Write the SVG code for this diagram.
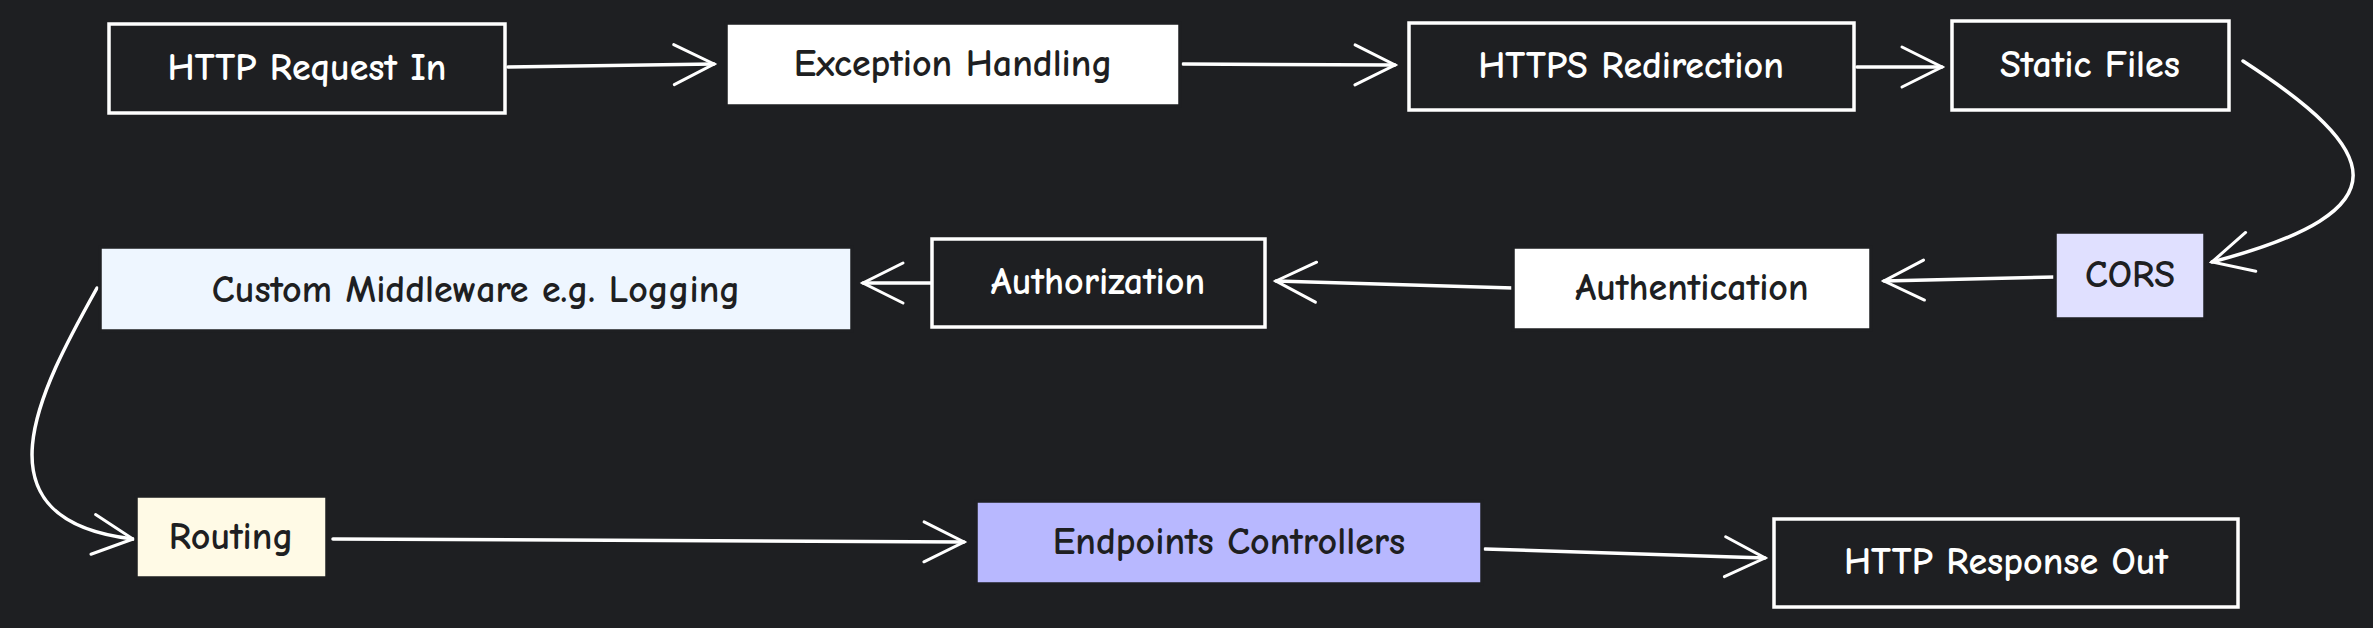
<svg xmlns="http://www.w3.org/2000/svg" width="2373" height="628" viewBox="0 0 2373 628">
<defs>
<style>
.n rect{stroke-width:3.5}
.d rect{fill:#1e1f22;stroke:#ffffff}
.d text{fill:#ffffff}
.l rect{stroke:#1e1f22}
.l text{fill:#1e1f22}
text{font-family:"Comic Neue","Liberation Sans",sans-serif;font-size:38px;font-weight:bold;text-anchor:middle;dominant-baseline:central}
#edges path{fill:none;stroke:#ffffff;stroke-width:3.5;stroke-linecap:round}
</style>
<marker id="b" viewBox="0 0 20 20" refX="18" refY="10" markerWidth="50" markerHeight="50" markerUnits="userSpaceOnUse" orient="auto">
<path d="M2 2 L18 10 L2 18" fill="none" stroke="#ffffff" stroke-width="1.2" stroke-linecap="round"/>
</marker>
</defs>
<rect width="2373" height="628" fill="#1e1f22"/>
<g id="edges">
<path d="M508 67 L714 64" marker-end="url(#b)"/>
<path d="M1183 64 L1395 65" marker-end="url(#b)"/>
<path d="M1857 67 L1942 67" marker-end="url(#b)"/>
<path d="M2243 61 C2380 150 2410 210 2212 262" marker-end="url(#b)"/>
<path d="M2055 277 L1884 281" marker-end="url(#b)"/>
<path d="M1513 288 L1276 281" marker-end="url(#b)"/>
<path d="M932 283 L863 283" marker-end="url(#b)"/>
<path d="M97 288 C40 390 -30 520 133 539" marker-end="url(#b)"/>
<path d="M333 539 L964 542" marker-end="url(#b)"/>
<path d="M1485 549 L1765 558" marker-end="url(#b)"/>
</g>
<g id="n1" class="n d"><rect x="109" y="24" width="396" height="89"/><text x="307" y="68">HTTP Request In</text></g>
<g id="n2" class="n l"><rect x="726" y="23" width="454" height="83" fill="#ffffff"/><text x="953" y="64">Exception Handling</text></g>
<g id="n3" class="n d"><rect x="1409" y="23" width="445" height="87"/><text x="1631" y="66">HTTPS Redirection</text></g>
<g id="n4" class="n d"><rect x="1952" y="21" width="277" height="89"/><text x="2090" y="65">Static Files</text></g>
<g id="n5" class="n l"><rect x="2055" y="232" width="150" height="87" fill="#e0e0ff" stroke="#3a3d45"/><text x="2130" y="275" fill="#3a3d45">CORS</text></g>
<g id="n6" class="n l"><rect x="1513" y="247" width="358" height="83" fill="#ffffff"/><text x="1692" y="288">Authentication</text></g>
<g id="n7" class="n d"><rect x="932" y="239" width="333" height="88"/><text x="1098" y="282">Authorization</text></g>
<g id="n8" class="n l"><rect x="100" y="247" width="752" height="84" fill="#eef6ff" stroke="#eef6ff"/><text x="476" y="290">Custom Middleware e.g. Logging</text></g>
<g id="n9" class="n l"><rect x="136" y="496" width="191" height="82" fill="#fffae6" stroke="#fffae6"/><text x="231" y="537">Routing</text></g>
<g id="n10" class="n l"><rect x="976" y="501" width="506" height="83" fill="#b8b8ff" stroke="#b8b8ff"/><text x="1229" y="542">Endpoints Controllers</text></g>
<g id="n11" class="n d"><rect x="1774" y="519" width="464" height="88"/><text x="2006" y="562">HTTP Response Out</text></g>
</svg>
